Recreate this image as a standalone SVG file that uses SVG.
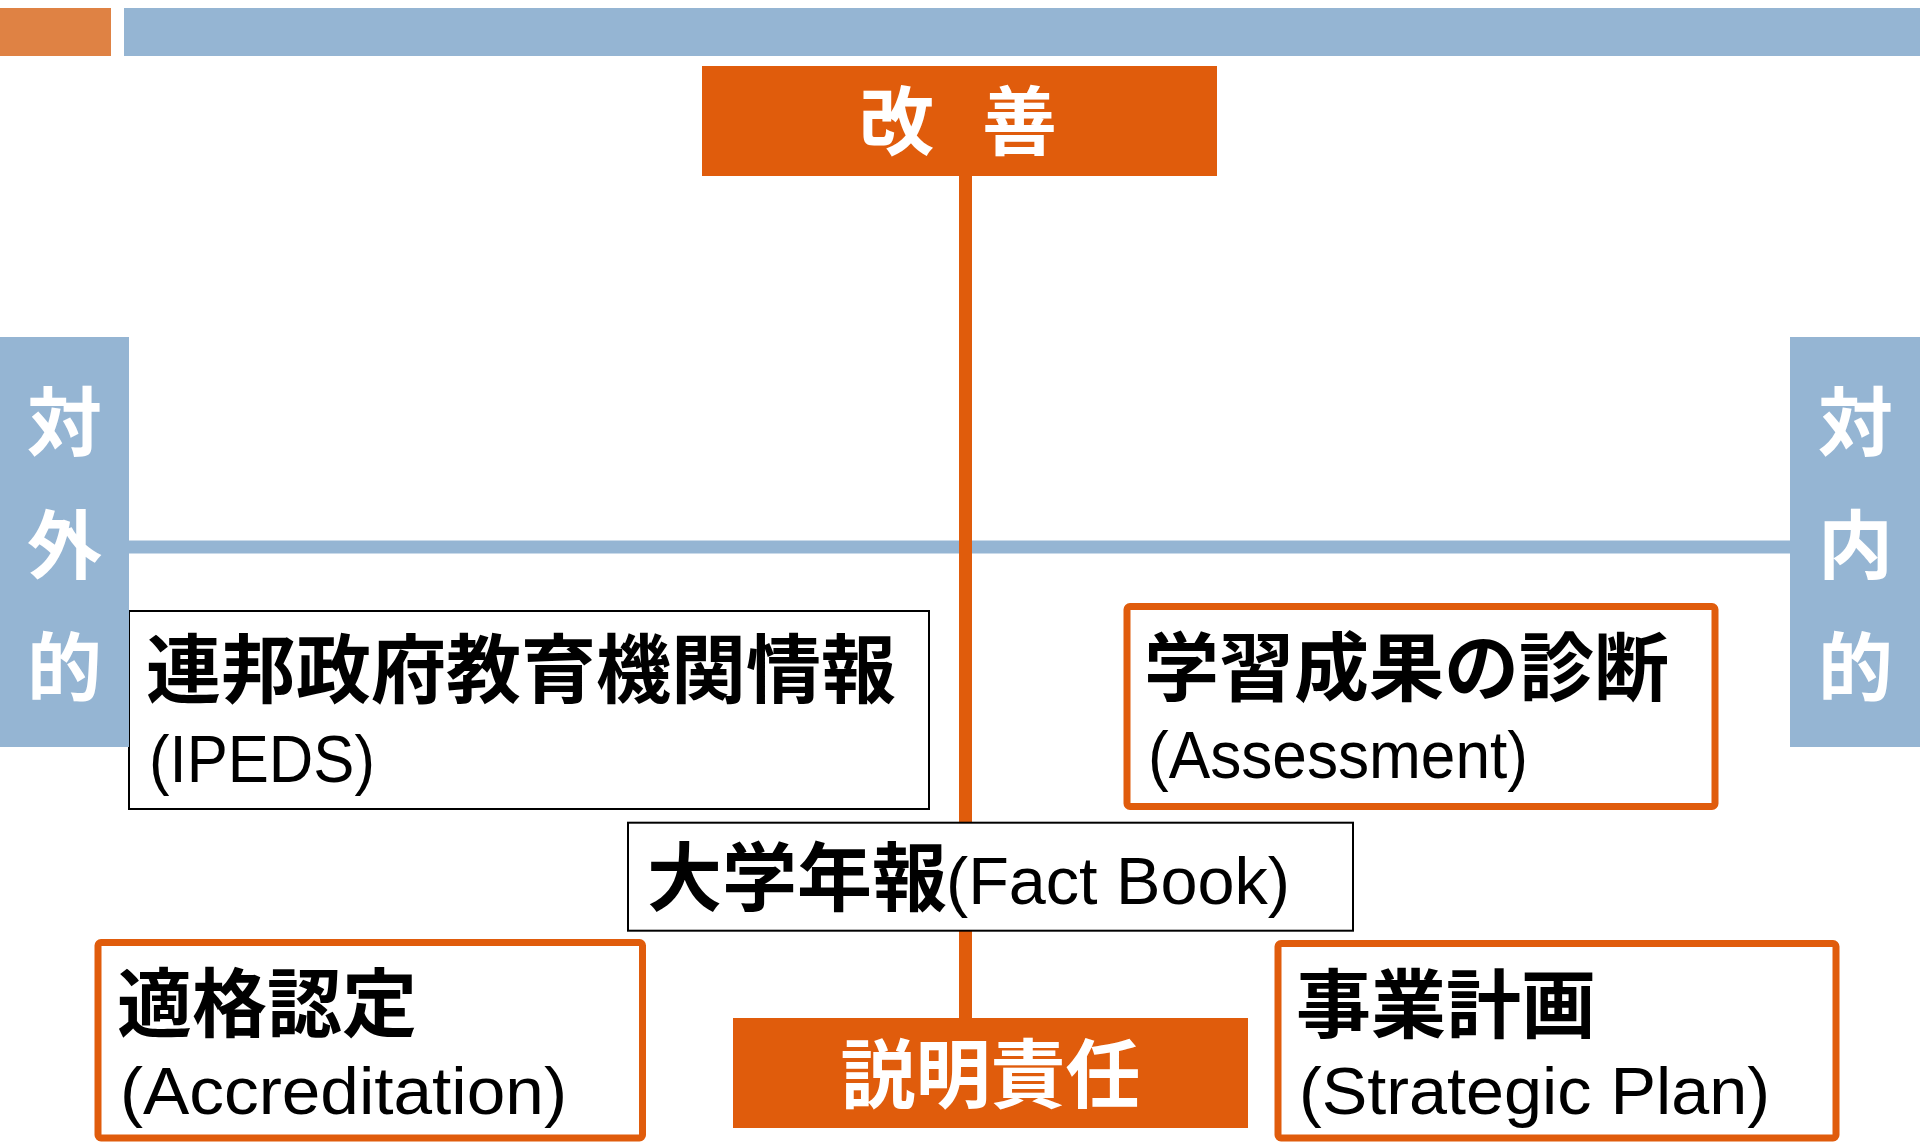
<svg xmlns="http://www.w3.org/2000/svg" width="1920" height="1143" viewBox="0 0 1920 1143">
  <style>
    .jp { font-family: "Noto Sans CJK JP", "Noto Sans", sans-serif; font-weight: 700; font-size: 75px; fill: #000; }
    .lat { font-family: "Liberation Sans", Arial, sans-serif; font-weight: 400; font-size: 66px; fill: #000; }
    .wjp { font-family: "Noto Sans CJK JP", "Noto Sans", sans-serif; font-weight: 700; font-size: 75px; fill: #fff; }
    .obox { fill: #E05C0C; }
    .bpanel { fill: #95B5D3; }
    .blackbox { fill: #fff; stroke: #000; stroke-width: 2; }
    .orangebox { fill: #fff; stroke: #E05C0C; stroke-width: 7; }
  </style>
  <rect width="1920" height="1143" fill="#fff"/>
  <g id="header">
    <rect x="0" y="8" width="111" height="48" fill="#DF8244"/>
    <rect x="124" y="8" width="1796" height="48" fill="#95B5D3"/>
  </g>
  <g id="connectors">
    <rect x="129" y="540.5" width="1661" height="13" fill="#95B5D3"/>
    <rect x="959" y="175" width="13" height="845" fill="#E05C0C"/>
  </g>
  <g id="node-kaizen">
    <rect class="obox" x="702" y="66" width="515" height="110"/>
    <text class="wjp" x="859 940 982" y="149">改 善</text>
  </g>
  <g id="node-ipeds">
    <rect class="blackbox" x="129" y="611" width="800" height="198"/>
    <text class="jp" x="146" y="697">連邦政府教育機関情報</text>
    <text class="lat" x="149" y="782" textLength="226" lengthAdjust="spacingAndGlyphs">(IPEDS)</text>
  </g>
  <g id="node-assessment">
    <rect class="orangebox" x="1127" y="606.5" width="588" height="200" rx="3"/>
    <text class="jp" x="1144" y="695">学習成果の診断</text>
    <text class="lat" x="1148" y="778" textLength="380" lengthAdjust="spacingAndGlyphs">(Assessment)</text>
  </g>
  <g id="node-factbook">
    <rect class="blackbox" x="628" y="822.7" width="725" height="108"/>
    <text class="jp" x="647" y="905">大学年報<tspan class="lat" x="946" y="904" textLength="344" lengthAdjust="spacingAndGlyphs">(Fact Book)</tspan></text>
  </g>
  <g id="node-accreditation">
    <rect class="orangebox" x="98" y="942.5" width="544.5" height="195.5" rx="3"/>
    <text class="jp" x="117" y="1031">適格認定</text>
    <text class="lat" x="120" y="1114" textLength="447" lengthAdjust="spacingAndGlyphs">(Accreditation)</text>
  </g>
  <g id="node-accountability">
    <rect class="obox" x="733" y="1018" width="515" height="110"/>
    <text class="wjp" x="990.5" y="1102" text-anchor="middle">説明責任</text>
  </g>
  <g id="node-strategic">
    <rect class="orangebox" x="1278" y="943.5" width="558" height="194.5" rx="3"/>
    <text class="jp" x="1296" y="1032">事業計画</text>
    <text class="lat" x="1299" y="1114" textLength="471" lengthAdjust="spacingAndGlyphs">(Strategic Plan)</text>
  </g>
  <g id="node-external">
    <rect class="bpanel" x="0" y="337" width="129" height="410"/>
    <text class="wjp" x="64.5" y="449.5" text-anchor="middle">対</text>
    <text class="wjp" x="64.5" y="572.5" text-anchor="middle">外</text>
    <text class="wjp" x="64.5" y="694.5" text-anchor="middle">的</text>
  </g>
  <g id="node-internal">
    <rect class="bpanel" x="1790" y="337" width="130" height="410"/>
    <text class="wjp" x="1855.5" y="449.5" text-anchor="middle">対</text>
    <text class="wjp" x="1855.5" y="572.5" text-anchor="middle">内</text>
    <text class="wjp" x="1855.5" y="694.5" text-anchor="middle">的</text>
  </g>
</svg>
